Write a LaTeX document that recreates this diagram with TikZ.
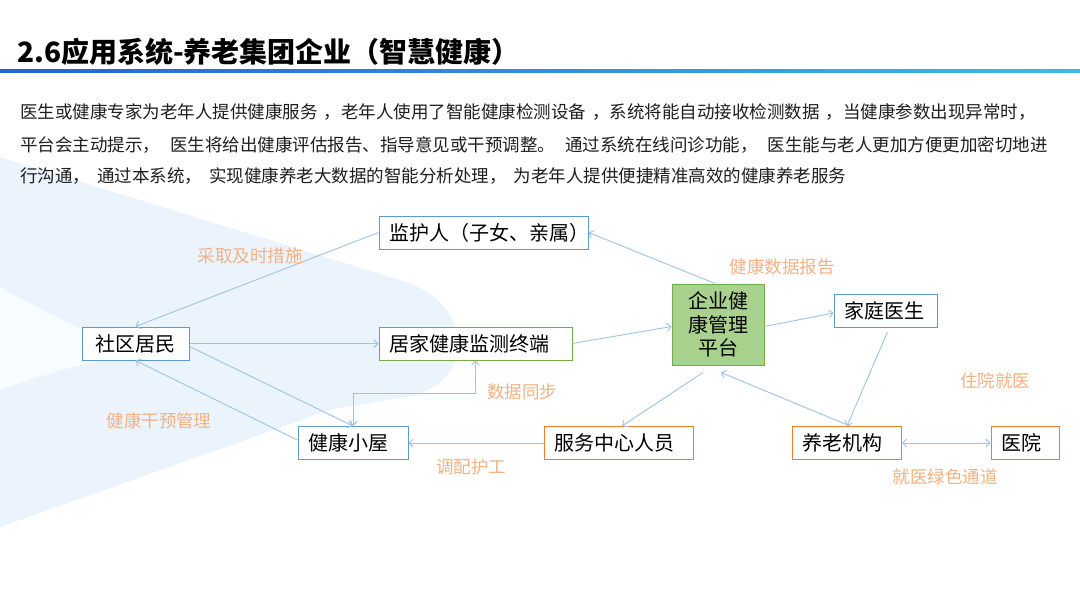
\documentclass[tikz,border=0pt]{standalone}
\usepackage{fontspec}
\setmainfont{Noto Sans CJK SC}
\usetikzlibrary{arrows.meta,calc}
\definecolor{lnc}{RGB}{157,195,230}
\definecolor{bluebd}{RGB}{91,155,213}
\definecolor{greenbd}{RGB}{112,173,71}
\definecolor{greenfill}{RGB}{169,209,142}
\definecolor{orangebd}{RGB}{237,125,49}
\definecolor{lblc}{RGB}{244,177,131}
\definecolor{bgblue}{RGB}{235,244,253}
\definecolor{txtc}{RGB}{30,30,30}
\definecolor{lineL}{RGB}{28,104,208}
\definecolor{lineR}{RGB}{64,182,240}
\begin{document}
\begin{tikzpicture}[x=1pt,y=-1pt,
  box/.style={draw, line width=1pt, fill=white, font=\fontsize{20}{24}\selectfont, inner ysep=0pt, inner xsep=10pt, minimum height=33pt, align=left, text=black},
  bbox/.style={box, draw=bluebd},
  gbox/.style={box, draw=greenbd},
  obox/.style={box, draw=orangebd},
  arr/.style={draw=lnc, line width=0.9pt, -{Straight Barb[length=4pt,width=8pt]}},
  darr/.style={draw=lnc, line width=0.9pt, {Straight Barb[length=4pt,width=8pt]}-{Straight Barb[length=4pt,width=8pt]}},
  lbl/.style={text=lblc, font=\fontsize{17.5}{20}\selectfont, inner sep=0pt},
  body/.style={anchor=west, text=txtc, font=\fontsize{17.5}{20}\selectfont, inner sep=0pt}
]
\useasboundingbox (0,0) rectangle (1080,608);
\fill[white] (0,0) rectangle (1080,608);
% background blade
\fill[bgblue] (0,157) -- (400,280) .. controls (470,300) and (480,375) .. (415,395)
  -- (330,410) -- (0,527) -- cycle;
\fill[white, fill opacity=0.75] (0,287) .. controls (60,320) and (100,340) .. (135,352)
  .. controls (90,362) and (40,375) .. (0,390) -- cycle;
% title
\node[anchor=west, inner sep=0pt, font=\fontsize{28}{30}\selectfont\bfseries] (title) at (17,52) {2.6应用系统-养老集团企业（智慧健康）};
\shade[left color=lineL, right color=lineR] (0,69.8) rectangle (1080,72.2);
% body text
\node[body] (l1) at (20,112) {医生或健康专家为老年人提供健康服务\hspace{6pt}，老年人使用了智能健康检测设备\hspace{6pt}，系统将能自动接收检测数据\hspace{6pt}，当健康参数出现异常时，};
\node[body] (l2) at (20,145) {平台会主动提示，\hspace{10pt}医生将给出健康评估报告、指导意见或干预调整。\hspace{10pt}通过系统在线问诊功能，\hspace{10pt}医生能与老人更加方便更加密切地进};
\node[body] (l3) at (20,176) {行沟通，\hspace{7pt}通过本系统，\hspace{7pt}实现健康养老大数据的智能分析处理，\hspace{7pt}为老年人提供便捷精准高效的健康养老服务};
% nodes
\node[bbox, text width=189pt] (jh) at (483.5,232.5) {监护人（子女、亲属）};
\node[bbox, text width=87pt, align=center] (sq) at (135.5,343.5) {社区居民};
\node[gbox, text width=173pt] (jj) at (475.5,343.5) {居家健康监测终端};
\node[draw=greenbd, fill=greenfill, line width=1pt, minimum width=92pt, minimum height=81pt, inner sep=0pt, align=center, font=\fontsize{20}{23.5}\selectfont] (pt) at (718,324.5) {企业健\\康管理\\平台};
\node[bbox, text width=83pt] (ys) at (885.5,311) {家庭医生};
\node[bbox, text width=90pt] (xw) at (353,443) {健康小屋};
\node[obox, text width=129pt] (fw) at (619,443) {服务中心人员};
\node[obox, text width=89pt] (yl) at (847,443) {养老机构};
\node[obox, text width=48pt] (yy) at (1025,443) {医院};
% connectors
\draw[arr] (jh.west) -- (sq.north);
\draw[arr] (sq.east) -- (jj.west);
\draw[arr] ([yshift=-3pt]sq.east) -- (xw.north);
\draw[arr] ([yshift=3pt]xw.west) -- (sq.south);
\draw[darr] (jj.south) -- ++(0,33) -| (xw.north);
\draw[arr] (jj.east) -- ([yshift=-2pt]pt.west);
\draw[arr] ([xshift=-3pt]pt.north) -- (jh.east);
\draw[arr] ([yshift=-2pt]pt.east) -- ([yshift=-2pt]ys.west);
\draw[arr] ([xshift=-15pt,yshift=-7pt]pt.south) -- ([xshift=3pt]fw.north);
\draw[arr] ([xshift=3pt]yl.north) -- ([xshift=3pt,yshift=-7pt]pt.south);
\draw[arr] ([xshift=2pt,yshift=-4pt]ys.south) -- (yl.north);
\draw[darr] (yl.east) -- (yy.west);
\draw[arr] (fw.west) -- (xw.east);
% labels
\node[lbl] (t1) at (250,256) {采取及时措施};
\node[lbl] (t2) at (159,421) {健康干预管理};
\node[lbl] (t3) at (522,392) {数据同步};
\node[lbl] (t4) at (471,467) {调配护工};
\node[lbl] (t5) at (782,267) {健康数据报告};
\node[lbl] (t6) at (995,381) {住院就医};
\node[lbl] (t7) at (945,477) {就医绿色通道};
\end{tikzpicture}
\end{document}
